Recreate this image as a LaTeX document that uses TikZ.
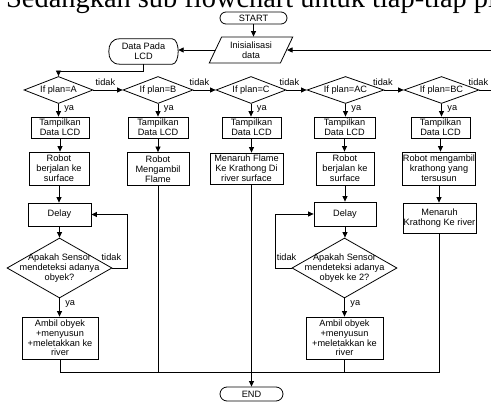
\documentclass[tikz,border=0pt]{standalone}
\usepackage{fontspec}
\setmainfont{Liberation Serif}
\newfontfamily\arialf{Liberation Sans}
\usetikzlibrary{shapes.geometric,shapes.misc,arrows.meta,calc}
\begin{document}
\begin{tikzpicture}[x=1pt,y=-1pt,
  every node/.style={font=\arialf\fontsize{9.2}{9.8}\selectfont, inner sep=0pt},
  box/.style={draw, line width=0.8pt, align=center},
  term/.style={draw, line width=0.8pt, rounded rectangle},
  dec/.style={draw, line width=0.8pt, diamond},
  ln/.style={line width=0.8pt},
  arr/.style={line width=0.8pt, -{Triangle[length=5.5pt,width=5pt]}},
  lbl/.style={inner sep=0.5pt}]
\useasboundingbox (0,0) rectangle (491,403);
\clip (0,0) rectangle (491,403);
\node[anchor=base west, font=\fontsize{28.4}{30}\selectfont] (title) at (6,7.5) {Sedangkan sub flowchart untuk tiap-tiap plan};

% top
\node[term, minimum width=67, minimum height=12] (start) at (253.5,18) {START};
\node[draw, line width=0.8pt, trapezium, trapezium left angle=62, trapezium right angle=118,
      trapezium stretches=true, minimum width=84, minimum height=26, align=center] (init) at (251,50) {Inisialisasi\\data};
\node[minimum width=69, minimum height=25, align=center] (lcd) at (143.5,51.5) {Data Pada\\LCD};
\draw[ln] ([xshift=11pt]lcd.north west) -- ([xshift=-6pt]lcd.north east)
  .. controls ([xshift=-2pt]lcd.north east) and ([yshift=6pt]lcd.east) .. (lcd.east)
  .. controls ([yshift=-6pt]lcd.east) and ([xshift=-2pt]lcd.south east) .. ([xshift=-6pt]lcd.south east)
  -- ([xshift=11pt]lcd.south west)
  .. controls ([xshift=3pt]lcd.south west) and ([yshift=-7pt]lcd.west) .. (lcd.west)
  .. controls ([yshift=7pt]lcd.west) and ([xshift=3pt]lcd.north west) .. cycle;

% decision row
\node[dec, minimum width=69, minimum height=27, label=center:{If plan=A}] (qA) at (58.5,90) {};
\node[dec, minimum width=70, minimum height=27, label=center:{If plan=B}] (qB) at (158,90) {};
\node[dec, minimum width=70, minimum height=27, label=center:{If plan=C}] (qC) at (251,90) {};
\node[dec, minimum width=77, minimum height=27, label=center:{If plan=AC}] (qAC) at (345.5,90) {};
\node[dec, minimum width=75, minimum height=27, label=center:{If plan=BC}] (qBC) at (441.5,90) {};

% Tampilkan row
\node[box, minimum width=58, minimum height=21] (tA) at (60,127.5) {Tampilkan\\Data LCD};
\node[box, minimum width=60, minimum height=21] (tB) at (158,127.5) {Tampilkan\\Data LCD};
\node[box, minimum width=59, minimum height=21] (tC) at (251.5,127.5) {Tampilkan\\Data LCD};
\node[box, minimum width=61, minimum height=21] (tAC) at (344.5,127.5) {Tampilkan\\Data LCD};
\node[box, minimum width=59, minimum height=21] (tBC) at (440.5,127.5) {Tampilkan\\Data LCD};

% second row
\node[box, minimum width=60, minimum height=33] (rA) at (59,168.5) {Robot\\berjalan ke\\surface};
\node[box, minimum width=62, minimum height=33] (rB) at (158,169) {Robot\\Mengambil\\Flame};
\node[box, minimum width=73, minimum height=31] (rC) at (246.5,168.5) {Menaruh Flame\\Ke Krathong Di\\river surface};
\node[box, minimum width=58, minimum height=33] (rAC) at (345,168.5) {Robot\\berjalan ke\\surface};
\node[box, minimum width=73, minimum height=33] (rBC) at (439,168.5) {Robot mengambil\\krathong yang\\tersusun};

% third row
\node[box, minimum width=63, minimum height=23] (dA) at (59.5,214.5) {Delay};
\node[box, minimum width=62, minimum height=24] (dAC) at (345,214) {Delay};
\node[box, minimum width=73, minimum height=30] (mBC) at (439.5,218) {Menaruh\\Krathong Ke river};

% sensor decisions
\node[dec, minimum width=105, minimum height=60,
      label={[align=center]center:{Apakah Sensor\\mendeteksi adanya\\obyek?}}] (sA) at (59.5,268) {};
\node[dec, minimum width=105, minimum height=60,
      label={[align=center]center:{Apakah Sensor\\mendeteksi adanya\\obyek ke 2?}}] (sAC) at (344.5,268) {};

% Ambil boxes
\node[box, minimum width=76, minimum height=42] (aA) at (60,338) {Ambil obyek\\+menyusun\\+meletakkan ke\\river};
\node[box, minimum width=77, minimum height=42] (aAC) at (344.5,338) {Ambil obyek\\+menyusun\\+meletakkan ke\\river};

% END
\node[term, minimum width=63, minimum height=14] (endn) at (251.5,394) {END};
\coordinate (m) at (251.5,372);

% connectors top
\draw[arr] (start.south) -- (start.south |- init.north);
\draw[arr] (init.west) -- (init.west -| lcd.east);
\draw[arr] (lcd.south) -- ++(0,7) -| (qA.north);
\draw[arr] (qBC.east) -- ++(40,0) |- (init.east);

% decision chain
\draw[arr] (qA.east) -- (qB.west);
\draw[arr] (qB.east) -- (qC.west);
\draw[arr] (qC.east) -- (qAC.west);
\draw[arr] (qAC.east) -- (qBC.west);
\node[lbl] at ([xshift=12pt,yshift=8pt]qA.east) {tidak};
\node[lbl] at ([xshift=6pt,yshift=8pt]qB.east) {tidak};
\node[lbl] at ([xshift=3pt,yshift=8pt]qC.east) {tidak};
\node[lbl] at ([xshift=-1.5pt,yshift=8pt]qAC.east) {tidak};
\node[lbl] at ([xshift=-1pt,yshift=8pt]qBC.east) {tidak};

% ya arrows
\foreach \q/\t in {qA/tA,qB/tB,qC/tC,qAC/tAC,qBC/tBC}{
  \draw[arr] (\q.south) -- node[lbl, right=5pt, pos=0.38]{ya} (\q.south |- \t.north);
}

% column A
\draw[arr] (tA.south) -- (tA.south |- rA.north);
\draw[arr] (rA.south) -- (rA.south |- dA.north);
\draw[arr] (dA.south) -- (dA.south |- sA.north);
\draw[arr] (sA.south) -- node[lbl, right=5pt, pos=0.32]{ya} (sA.south |- aA.north);
\draw[arr] (sA.east) -- ++(15,0) |- (dA.east);
\node[lbl] at ([xshift=-1pt,yshift=11pt]sA.east) {tidak};
\draw[ln] (aA.south) |- (m);

% column B
\draw[arr] (tB.south) -- (tB.south |- rB.north);
\draw[ln] (rB.south) |- (m);

% column C
\draw[arr] (tC.south) -- (tC.south |- rC.north);
\draw[arr] (rC.south -| m) -- (endn.north);

% column AC
\draw[arr] (tAC.south) -- (tAC.south |- rAC.north);
\draw[arr] (rAC.south) -- (rAC.south |- dAC.north);
\draw[arr] (dAC.south) -- (dAC.south |- sAC.north);
\draw[arr] (sAC.south) -- node[lbl, right=5pt, pos=0.32]{ya} (sAC.south |- aAC.north);
\draw[arr] (sAC.west) -- ++(-16,0) |- (dAC.west);
\node[lbl] at ([xshift=-5pt,yshift=11pt]sAC.west) {tidak};
\draw[ln] (aAC.south) |- (m);

% column BC
\draw[arr] (tBC.south) -- (tBC.south |- rBC.north);
\draw[arr] (rBC.south) -- (rBC.south |- mBC.north);
\draw[ln] (mBC.south) |- (m);
\end{tikzpicture}
\end{document}
